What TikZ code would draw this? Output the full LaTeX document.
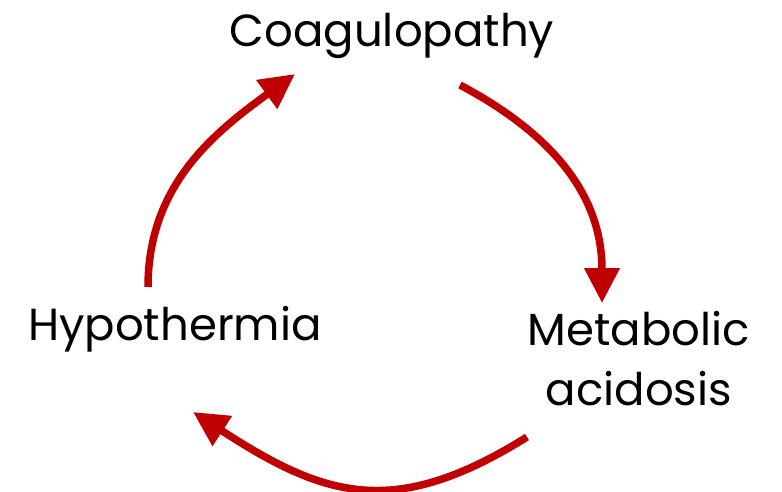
\documentclass[tikz,border=0pt]{standalone}
\usepackage{fontspec}
\setmainfont{Poppins}
\usepackage{tikz}
\usetikzlibrary{arrows.meta}
\definecolor{cycred}{HTML}{C00000}

\begin{document}
\begin{tikzpicture}[x=1pt,y=1pt]
\tikzstyle{every node}+=[inner sep=0pt]
\tikzstyle{label}=[anchor=base,font=\fontsize{45}{60}\selectfont,text=black]
\tikzstyle{cyc}=[cycred,line width=7.5pt,-{Triangle[length=35pt,width=34pt]}]
\useasboundingbox (0,0) rectangle (782,-492);
\node [label] (coag) at (392,-47) {Coagulopathy};
\node [label] (hypo) at (175,-340) {Hypothermia};
\node [label] (meta) at (639,-345) {Metabolic};
\node [label] (acid) at (639,-405) {acidosis};
\coordinate (a1) at (148,-287);
\coordinate (b1) at (295,-74);
\coordinate (a2) at (460,-85);
\coordinate (b2) at (602,-303);
\coordinate (a3) at (527,-437);
\coordinate (b3) at (193,-412);
\draw [cyc] (a1) to [out=90,in=216] (b1);
\draw [cyc] (a2) to [out=-28,in=90,looseness=1.05] (b2);
\draw [cyc] (a3) to [out=212,in=-33,looseness=1.2] (b3);
\end{tikzpicture}
\end{document}
